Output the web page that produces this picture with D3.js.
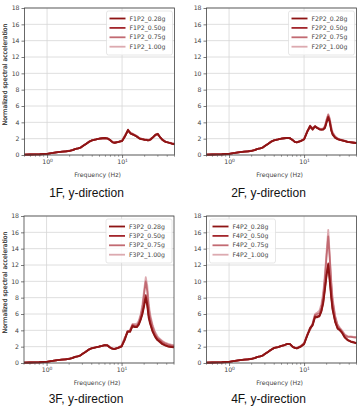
<!DOCTYPE html>
<html>
<head>
<meta charset="utf-8">
<script src="https://cdn.jsdelivr.net/npm/d3@7"></script>
<style>
  body { margin: 0; background: #fff; }
  svg { display: block; }
</style>
</head>
<body>
<svg width="359" height="406"></svg>
<script>
// frequencies (Hz)
const freq = [0.5, 0.6, 0.7, 0.8, 0.9, 1.0, 1.2, 1.4, 1.6, 1.8, 2.0, 2.2, 2.4, 2.6, 2.8, 3.0, 3.3, 3.6, 4.0, 4.5,
              5.0, 5.5, 6.0, 6.5, 7.0, 7.5, 8.0, 9.0, 10, 11, 12, 13, 14, 15, 16, 17, 18, 19, 20, 21,
              22, 23, 24, 26, 28, 30, 32, 35, 38, 42, 46, 50];

// 1F
const f1_028 = [0.05, 0.06, 0.07, 0.09, 0.12, 0.15, 0.25, 0.35, 0.42, 0.45, 0.5, 0.6, 0.75, 0.8, 0.9, 1.1, 1.35, 1.6, 1.8, 1.9,
                2.0, 2.05, 2.08, 2.0, 1.8, 1.55, 1.5, 1.6, 1.7, 2.3, 3.1, 2.6, 2.5, 2.35, 2.2, 2.0, 1.95, 1.9, 1.85, 1.85,
                1.8, 1.8, 1.9, 2.2, 2.5, 2.6, 2.2, 1.8, 1.6, 1.5, 1.4, 1.3];
const f1_050 = [0.05, 0.06, 0.07, 0.09, 0.12, 0.15, 0.25, 0.35, 0.42, 0.46, 0.5, 0.6, 0.74, 0.8, 0.92, 1.1, 1.35, 1.6, 1.8, 1.9,
                2.0, 2.05, 2.06, 2.0, 1.78, 1.55, 1.5, 1.6, 1.72, 2.35, 3.0, 2.65, 2.5, 2.35, 2.2, 2.05, 1.95, 1.9, 1.85, 1.85,
                1.8, 1.82, 1.9, 2.2, 2.5, 2.55, 2.2, 1.8, 1.6, 1.5, 1.4, 1.32];
const f1_075 = [0.05, 0.06, 0.07, 0.09, 0.12, 0.15, 0.25, 0.35, 0.42, 0.46, 0.52, 0.62, 0.75, 0.82, 0.92, 1.12, 1.35, 1.6, 1.82, 1.92,
                2.0, 2.05, 2.06, 2.0, 1.8, 1.58, 1.52, 1.62, 1.75, 2.4, 3.0, 2.7, 2.55, 2.4, 2.25, 2.05, 2.0, 1.95, 1.9, 1.88,
                1.85, 1.85, 1.95, 2.2, 2.45, 2.5, 2.2, 1.85, 1.65, 1.52, 1.42, 1.35];
const f1_100 = [0.05, 0.06, 0.07, 0.09, 0.12, 0.15, 0.25, 0.36, 0.42, 0.46, 0.52, 0.62, 0.76, 0.82, 0.93, 1.12, 1.38, 1.62, 1.82, 1.92,
                2.02, 2.05, 2.05, 2.0, 1.82, 1.6, 1.55, 1.65, 1.8, 2.5, 2.95, 2.75, 2.6, 2.45, 2.3, 2.1, 2.0, 1.95, 1.92, 1.9,
                1.88, 1.88, 1.98, 2.2, 2.45, 2.45, 2.2, 1.85, 1.65, 1.55, 1.45, 1.38];

// 2F
const f2_028 = [0.05, 0.06, 0.07, 0.09, 0.12, 0.15, 0.25, 0.35, 0.42, 0.45, 0.5, 0.6, 0.75, 0.8, 0.9, 1.1, 1.35, 1.6, 1.8, 1.9,
                2.0, 2.05, 2.1, 2.05, 1.85, 1.6, 1.55, 1.7, 1.9, 2.8, 3.5, 3.1, 3.5, 3.3, 3.15, 3.1, 3.1, 3.3, 4.0, 4.6,
                4.0, 3.0, 2.5, 2.1, 1.95, 1.85, 1.8, 1.7, 1.6, 1.55, 1.5, 1.45];
const f2_050 = [0.05, 0.06, 0.07, 0.09, 0.12, 0.15, 0.25, 0.35, 0.42, 0.46, 0.5, 0.6, 0.75, 0.8, 0.92, 1.1, 1.35, 1.6, 1.8, 1.9,
                2.0, 2.05, 2.1, 2.05, 1.85, 1.6, 1.55, 1.7, 1.92, 2.85, 3.6, 3.2, 3.55, 3.3, 3.15, 3.1, 3.15, 3.4, 4.1, 4.7,
                4.1, 3.1, 2.55, 2.15, 1.95, 1.85, 1.8, 1.7, 1.6, 1.55, 1.5, 1.45];
const f2_075 = [0.05, 0.06, 0.07, 0.09, 0.12, 0.15, 0.25, 0.35, 0.42, 0.46, 0.52, 0.62, 0.76, 0.82, 0.92, 1.12, 1.36, 1.62, 1.82, 1.92,
                2.02, 2.06, 2.1, 2.05, 1.86, 1.62, 1.56, 1.72, 1.95, 2.9, 3.4, 3.3, 3.45, 3.35, 3.2, 3.15, 3.2, 3.5, 4.3, 4.9,
                4.3, 3.3, 2.7, 2.2, 2.0, 1.9, 1.82, 1.72, 1.62, 1.57, 1.52, 1.48];
const f2_100 = [0.05, 0.06, 0.07, 0.09, 0.12, 0.15, 0.25, 0.36, 0.43, 0.46, 0.52, 0.62, 0.76, 0.82, 0.93, 1.12, 1.38, 1.62, 1.82, 1.92,
                2.02, 2.06, 2.1, 2.05, 1.88, 1.65, 1.58, 1.75, 2.0, 2.9, 3.3, 3.35, 3.4, 3.35, 3.25, 3.2, 3.25, 3.6, 4.4, 5.0,
                4.5, 3.5, 2.8, 2.3, 2.05, 1.92, 1.85, 1.75, 1.65, 1.6, 1.55, 1.5];

// 3F
const f3_028 = [0.05, 0.06, 0.07, 0.09, 0.12, 0.15, 0.25, 0.35, 0.42, 0.45, 0.5, 0.6, 0.75, 0.8, 0.9, 1.1, 1.35, 1.6, 1.8, 1.9,
                2.0, 2.1, 2.2, 2.15, 1.9, 1.75, 1.7, 1.85, 2.0, 2.8, 3.8, 3.8, 4.5, 4.4, 4.4, 4.7, 5.3, 6.0, 7.0, 8.0,
                7.0, 5.5, 4.8, 3.8, 3.2, 2.8, 2.6, 2.3, 2.15, 2.0, 1.95, 1.9];
const f3_050 = [0.05, 0.06, 0.07, 0.09, 0.12, 0.15, 0.25, 0.35, 0.42, 0.46, 0.5, 0.6, 0.75, 0.8, 0.92, 1.1, 1.35, 1.6, 1.8, 1.9,
                2.0, 2.1, 2.2, 2.15, 1.9, 1.75, 1.7, 1.85, 2.05, 2.9, 3.9, 3.9, 4.6, 4.45, 4.45, 4.8, 5.4, 6.2, 7.2, 8.3,
                7.3, 5.8, 5.0, 3.9, 3.3, 2.9, 2.7, 2.4, 2.2, 2.05, 2.0, 1.95];
const f3_075 = [0.05, 0.06, 0.07, 0.09, 0.12, 0.15, 0.25, 0.35, 0.42, 0.46, 0.52, 0.62, 0.76, 0.82, 0.92, 1.12, 1.36, 1.62, 1.82, 1.92,
                2.02, 2.1, 2.2, 2.15, 1.92, 1.78, 1.72, 1.88, 2.1, 3.0, 3.8, 4.0, 4.7, 4.6, 4.6, 5.0, 5.8, 6.8, 8.5, 10.0,
                8.8, 6.8, 5.6, 4.4, 3.6, 3.1, 2.9, 2.6, 2.4, 2.25, 2.15, 2.1];
const f3_100 = [0.05, 0.06, 0.07, 0.09, 0.12, 0.15, 0.25, 0.36, 0.43, 0.46, 0.52, 0.62, 0.76, 0.82, 0.93, 1.12, 1.38, 1.62, 1.82, 1.92,
                2.02, 2.1, 2.2, 2.15, 1.95, 1.8, 1.75, 1.9, 2.15, 3.1, 3.7, 4.1, 4.8, 4.8, 4.8, 5.2, 6.0, 7.2, 9.0, 10.5,
                9.5, 7.3, 6.0, 4.6, 3.8, 3.3, 3.0, 2.7, 2.5, 2.35, 2.25, 2.2];

// 4F
const f4_028 = [0.05, 0.06, 0.07, 0.09, 0.12, 0.15, 0.25, 0.35, 0.42, 0.45, 0.5, 0.6, 0.75, 0.8, 0.9, 1.1, 1.35, 1.6, 1.85, 1.95,
                2.1, 2.2, 2.35, 2.3, 2.0, 1.85, 1.8, 2.0, 2.3, 3.3, 4.2, 4.6, 5.6, 5.6, 5.7, 6.3, 7.3, 9.0, 10.8, 12.0,
                10.0, 8.0, 6.5, 5.0, 4.2, 4.0, 3.7, 3.1, 2.8, 2.6, 2.5, 2.4];
const f4_050 = [0.05, 0.06, 0.07, 0.09, 0.12, 0.15, 0.25, 0.35, 0.42, 0.46, 0.5, 0.6, 0.75, 0.8, 0.92, 1.1, 1.35, 1.6, 1.85, 1.95,
                2.1, 2.2, 2.35, 2.3, 2.0, 1.85, 1.8, 2.0, 2.35, 3.4, 4.3, 4.7, 5.7, 5.7, 5.8, 6.4, 7.5, 9.3, 11.0, 12.2,
                10.3, 8.3, 6.7, 5.1, 4.3, 4.05, 3.75, 3.15, 2.85, 2.65, 2.55, 2.45];
const f4_075 = [0.05, 0.06, 0.07, 0.09, 0.12, 0.15, 0.25, 0.35, 0.42, 0.46, 0.52, 0.62, 0.76, 0.82, 0.92, 1.12, 1.36, 1.62, 1.85, 1.95,
                2.1, 2.2, 2.35, 2.3, 2.02, 1.88, 1.82, 2.05, 2.4, 3.4, 4.1, 4.8, 5.9, 6.0, 6.1, 6.8, 8.2, 10.5, 13.2, 15.5,
                12.8, 9.8, 7.6, 5.6, 4.6, 4.2, 3.9, 3.4, 3.2, 3.2, 3.15, 3.1];
const f4_100 = [0.05, 0.06, 0.07, 0.09, 0.12, 0.15, 0.25, 0.36, 0.43, 0.46, 0.52, 0.62, 0.76, 0.82, 0.93, 1.12, 1.38, 1.62, 1.85, 1.95,
                2.1, 2.2, 2.35, 2.3, 2.05, 1.9, 1.85, 2.1, 2.45, 3.5, 4.0, 4.9, 6.0, 6.2, 6.4, 7.2, 8.6, 11.0, 13.8, 16.3,
                13.2, 10.2, 7.9, 5.8, 4.7, 4.3, 4.0, 3.5, 3.3, 3.25, 3.2, 3.2];

const levels = ["0.28g", "0.50g", "0.75g", "1.00g"];
const floors = ["1F", "2F", "3F", "4F"];
const floorSeries = [
  [f1_028, f1_050, f1_075, f1_100],
  [f2_028, f2_050, f2_075, f2_100],
  [f3_028, f3_050, f3_075, f3_100],
  [f4_028, f4_050, f4_075, f4_100]
];
const yTicks = [0, 2, 4, 6, 8, 10, 12, 14, 16, 18];
const xMajor = [1, 10];
const xMinor = [0.5, 0.6, 0.7, 0.8, 0.9, 2, 3, 4, 5, 6, 7, 8, 9, 20, 30, 40, 50];

const svg = d3.select("svg");
const colors = ["#8e1414", "#a3262c", "#c26a72", "#dcaab0"];
const pw = 150, ph = 147;
const panels = [
  {x: 24.5, y: 8, legend: "right", title: 42},
  {x: 206.5, y: 8, legend: "right", title: 42},
  {x: 24, y: 216, legend: "right", title: 40},
  {x: 206.5, y: 216, legend: "left", title: 40}
];

const x = d3.scaleLog().domain([0.5, 50]).range([0, pw]);
const y = d3.scaleLinear().domain([0, 18]).range([ph, 0]);
const line = d3.line().x(d => x(d[0])).y(d => y(d[1]));

panels.forEach((p, i) => {
  const g = svg.append("g").attr("transform", `translate(${p.x},${p.y})`);

  // grid
  g.selectAll(".gy").data(yTicks).enter().append("line")
    .attr("x1", 0).attr("x2", pw)
    .attr("y1", d => y(d)).attr("y2", d => y(d))
    .attr("stroke", "#d6d6d6").attr("stroke-width", 0.8);
  g.selectAll(".gx").data(xMajor).enter().append("line")
    .attr("x1", d => x(d)).attr("x2", d => x(d))
    .attr("y1", 0).attr("y2", ph)
    .attr("stroke", "#d6d6d6").attr("stroke-width", 0.8);

  // lines, heaviest load drawn first
  const series = floorSeries[i];
  for (let k = series.length - 1; k >= 0; k--) {
    g.append("path")
      .datum(freq.map((f, j) => [f, series[k][j]]))
      .attr("fill", "none")
      .attr("stroke", colors[k])
      .attr("stroke-width", 1.8)
      .attr("stroke-linejoin", "round")
      .attr("d", line);
  }

  // frame
  g.append("rect").attr("width", pw).attr("height", ph)
    .attr("fill", "none").attr("stroke", "#444").attr("stroke-width", 0.8);

  // y axis
  const ya = g.append("g").call(d3.axisLeft(y).tickValues(yTicks).tickSize(3).tickPadding(2));
  ya.select(".domain").remove();
  ya.selectAll("line").attr("stroke", "#444").attr("stroke-width", 0.7);
  ya.selectAll("text").attr("font-family", "DejaVu Sans").attr("font-size", 6.2).attr("fill", "#444");

  // x axis
  const xa = g.append("g").attr("transform", `translate(0,${ph})`)
    .call(d3.axisBottom(x).tickValues(xMajor).tickSize(3).tickPadding(2).tickFormat(""));
  xa.select(".domain").remove();
  xa.selectAll("line").attr("stroke", "#444").attr("stroke-width", 0.7);
  xa.selectAll(".tick text").each(function(d) {
    const t = d3.select(this).attr("font-family", "DejaVu Sans").attr("font-size", 6.2).attr("fill", "#444");
    t.append("tspan").text("10");
    t.append("tspan").attr("dy", -2.5).attr("font-size", 4.5).text(Math.round(Math.log10(d)));
  });
  g.selectAll(".mt").data(xMinor).enter().append("line")
    .attr("x1", d => x(d)).attr("x2", d => x(d))
    .attr("y1", ph).attr("y2", ph + 1.8)
    .attr("stroke", "#444").attr("stroke-width", 0.5);

  // axis labels
  g.append("text").attr("x", pw / 2 - 2).attr("y", ph + 21.5)
    .attr("text-anchor", "middle").attr("font-family", "DejaVu Sans")
    .attr("font-size", 6.2).attr("fill", "#444").text("Frequency (Hz)");
  g.append("text").attr("transform", `translate(${-p.x + 7},${ph / 2 - 7}) rotate(-90)`)
    .attr("text-anchor", "middle").attr("font-family", "DejaVu Sans")
    .attr("font-size", 6.2).attr("fill", "#444").text("Normalized spectral acceleration");

  // title
  g.append("text").attr("x", pw / 2 - 13).attr("y", ph + p.title)
    .attr("text-anchor", "middle").attr("font-family", "Liberation Sans")
    .attr("font-size", 12).attr("fill", "#111").text(`${floors[i]}, y-direction`);

  // legend
  const lw = 66, lh = 44;
  const lx = p.legend === "right" ? pw - lw - 2 : 3;
  const lg = g.append("g").attr("transform", `translate(${lx},3)`);
  lg.append("rect").attr("width", lw).attr("height", lh).attr("rx", 2)
    .attr("fill", "#fff").attr("fill-opacity", 0.85)
    .attr("stroke", "#dcdcdc").attr("stroke-width", 0.7);
  levels.forEach((lv, k) => {
    const ly = 7.5 + k * 9.4;
    lg.append("line").attr("x1", 3).attr("x2", 19).attr("y1", ly).attr("y2", ly)
      .attr("stroke", colors[k]).attr("stroke-width", 1.8);
    lg.append("text").attr("x", 23).attr("y", ly + 2.1)
      .attr("font-family", "DejaVu Sans").attr("font-size", 6.2).attr("fill", "#444")
      .text(`F${i + 1}P2_${lv}`);
  });
});
</script>
</body>
</html>
